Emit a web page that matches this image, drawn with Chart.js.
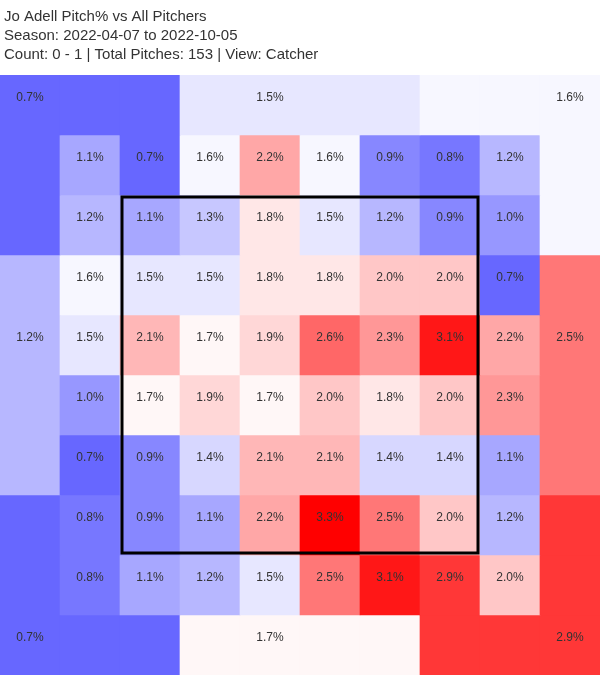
<!DOCTYPE html>
<html>
<head>
<meta charset="utf-8">
<script src="https://cdn.jsdelivr.net/npm/chart.js@4.4.0/dist/chart.umd.min.js"></script>
<style>
  html, body { margin: 0; padding: 0; background: #ffffff; }
  #wrap { width: 600px; height: 675px; }
</style>
</head>
<body>
<div id="wrap"><canvas id="chart" width="600" height="675"></canvas></div>
<script>
// ---------------- data ----------------
const titleLines = [
  'Jo Adell Pitch% vs All Pitchers',
  'Season: 2022-04-07 to 2022-10-05',
  'Count: 0 - 1 | Total Pitches: 153 | View: Catcher'
];

// inner 8x8 grid (top to bottom, left to right), percent of pitches
const zoneRow1 = [1.1, 0.7, 1.6, 2.2, 1.6, 0.9, 0.8, 1.2];
const zoneRow2 = [1.2, 1.1, 1.3, 1.8, 1.5, 1.2, 0.9, 1.0];
const zoneRow3 = [1.6, 1.5, 1.5, 1.8, 1.8, 2.0, 2.0, 0.7];
const zoneRow4 = [1.5, 2.1, 1.7, 1.9, 2.6, 2.3, 3.1, 2.2];
const zoneRow5 = [1.0, 1.7, 1.9, 1.7, 2.0, 1.8, 2.0, 2.3];
const zoneRow6 = [0.7, 0.9, 1.4, 2.1, 2.1, 1.4, 1.4, 1.1];
const zoneRow7 = [0.8, 0.9, 1.1, 2.2, 3.3, 2.5, 2.0, 1.2];
const zoneRow8 = [0.8, 1.1, 1.2, 1.5, 2.5, 3.1, 2.9, 2.0];
const zoneRows = [zoneRow1, zoneRow2, zoneRow3, zoneRow4, zoneRow5, zoneRow6, zoneRow7, zoneRow8];

// outer (out-of-zone) regions
const outerRegions = ['topLeft', 'topMid', 'topRight', 'midLeft', 'midRight', 'botLeft', 'botMid', 'botRight'];
const outerValues  = [0.7, 1.5, 1.6, 1.2, 2.5, 0.7, 1.7, 2.9];

const gridLabels = ['0', '1', '2', '3', '4', '5', '6', '7', '8', '9'];

// ---------------- layout / style ----------------
const labelCell = {
  topLeft: [0, 0], topMid: [4, 0], topRight: [9, 0],
  midLeft: [0, 4], midRight: [9, 4],
  botLeft: [0, 9], botMid: [4, 9], botRight: [9, 9]
};
const strikeZone = { colStart: 2, colEnd: 8, rowStart: 2, rowEnd: 8 };
const FONT = '"Liberation Sans", Arial, Helvetica, sans-serif';
const TEXT_COLOR = '#333333';
const CENTER = 1.65, SLOPE = 160;

function heat(v) {
  const k = Math.max(0, Math.min(255, Math.round(255 - SLOPE * Math.abs(v - CENTER))));
  return v < CENTER ? `rgb(${k},${k},255)` : `rgb(255,${k},${k})`;
}

function regionOf(c, r) {
  const band = i => (i <= 2 ? 0 : (i <= 6 ? 1 : 2));
  if (r === 0) return ['topLeft', 'topMid', 'topRight'][band(c)];
  if (r === 9) return ['botLeft', 'botMid', 'botRight'][band(c)];
  if (c === 0) return ['topLeft', 'midLeft', 'botLeft'][band(r)];
  return ['topRight', 'midRight', 'botRight'][band(r)];
}

function valueAt(c, r) {
  if (c >= 1 && c <= 8 && r >= 1 && r <= 8) return zoneRows[r - 1][c - 1];
  return outerValues[outerRegions.indexOf(regionOf(c, r))];
}

const datasets = gridLabels.map((_, r) => ({
  label: 'row' + r,
  data: gridLabels.map(() => [r, r + 1]),
  backgroundColor: gridLabels.map((__, c) => heat(valueAt(c, r))),
  borderWidth: 0,
  grouped: false,
  barPercentage: 1,
  categoryPercentage: 1
}));

const overlay = {
  id: 'overlay',
  afterDatasetsDraw(chart) {
    const { ctx, scales: { x, y } } = chart;
    const half = (x.getPixelForValue(1) - x.getPixelForValue(0)) / 2;
    const cx = c => x.getPixelForValue(c);
    const cy = r => (y.getPixelForValue(r) + y.getPixelForValue(r + 1)) / 2;
    ctx.save();
    ctx.font = '12px ' + FONT;
    ctx.fillStyle = TEXT_COLOR;
    ctx.textAlign = 'center';
    ctx.textBaseline = 'alphabetic';
    zoneRows.forEach((row, ri) => row.forEach((v, ci) => {
      ctx.fillText(v.toFixed(1) + '%', cx(ci + 1), cy(ri + 1) - 4);
    }));
    outerRegions.forEach((name, i) => {
      const [c, r] = labelCell[name];
      ctx.fillText(outerValues[i].toFixed(1) + '%', cx(c), cy(r) - 4);
    });
    // strike zone
    const left = cx(strikeZone.colStart) - half;
    const right = cx(strikeZone.colEnd - 1) + half;
    const top = y.getPixelForValue(strikeZone.rowStart);
    const bottom = y.getPixelForValue(strikeZone.rowEnd);
    ctx.strokeStyle = '#000000';
    ctx.lineWidth = 3;
    ctx.strokeRect(left + 2, top + 2, right - left - 4, bottom - top - 4);
    ctx.restore();
  },
  afterDraw(chart) {
    const { ctx } = chart;
    ctx.save();
    ctx.font = '15px ' + FONT;
    ctx.fillStyle = TEXT_COLOR;
    ctx.textAlign = 'left';
    ctx.textBaseline = 'alphabetic';
    titleLines.forEach((t, i) => ctx.fillText(t, 4, 20.7 + i * 19.3));
    ctx.restore();
  }
};

new Chart(document.getElementById('chart'), {
  type: 'bar',
  data: { labels: gridLabels, datasets },
  options: {
    responsive: false,
    animation: false,
    events: [],
    layout: { padding: { top: 75, left: 0, right: 0, bottom: 0 } },
    plugins: { legend: { display: false }, tooltip: { enabled: false }, title: { display: false } },
    scales: {
      x: { type: 'category', display: false, offset: true, grid: { display: false } },
      y: { type: 'linear', display: false, min: 0, max: 10, reverse: true, grid: { display: false } }
    }
  },
  plugins: [overlay]
});
</script>
</body>
</html>
